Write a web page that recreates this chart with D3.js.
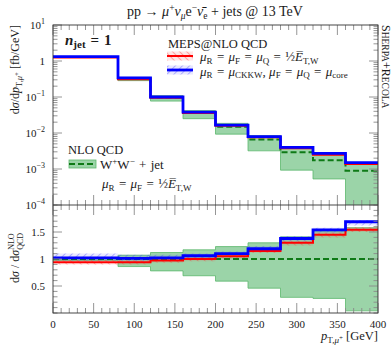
<!DOCTYPE html>
<html>
<head>
<meta charset="utf-8">
<script src="https://cdnjs.cloudflare.com/ajax/libs/d3/7.8.4/d3.min.js"></script>
<style>
body { margin: 0; background: #fff; }
svg text { font-family: "Liberation Serif", "DejaVu Serif", serif; fill: #1a1a1a; }
</style>
</head>
<body>
<div id="chart"></div>
<script>
// bin edges in GeV
const binEdges = [0, 80, 120, 160, 200, 240, 280, 320, 360, 400];

// main panel, fb/GeV
const nloCentral = [1.30, 0.33, 0.098, 0.036, 0.0150, 0.0066, 0.0029, 0.00175, 0.00089];
const nloLow     = [1.25, 0.285, 0.077, 0.025, 0.0093, 0.0032, 0.00093, 0.00053, 0.00004];
const nloHigh    = [1.34, 0.35, 0.109, 0.042, 0.0185, 0.0085, 0.0041, 0.0026, 0.0014];
const mepsRed    = [1.25, 0.31, 0.095, 0.036, 0.0158, 0.0076, 0.0038, 0.0025, 0.00137];
const mepsBlue   = [1.33, 0.34, 0.100, 0.038, 0.0166, 0.0079, 0.0040, 0.0027, 0.0015];

// ratio panel (to NLO QCD)
const ratioNlo       = [1, 1, 1, 1, 1, 1, 1, 1, 1];
const ratioNloLow    = [0.97, 0.86, 0.78, 0.69, 0.59, 0.46, 0.29, 0.27, 0.04];
const ratioNloHigh   = [1.03, 1.07, 1.12, 1.17, 1.23, 1.30, 1.41, 1.52, 1.58];
const ratioRed       = [0.94, 0.94, 0.97, 1.00, 1.05, 1.15, 1.30, 1.45, 1.54];
const ratioRedLow    = [0.90, 0.90, 0.93, 0.96, 1.01, 1.11, 1.25, 1.40, 1.50];
const ratioRedHigh   = [0.98, 0.98, 1.01, 1.04, 1.09, 1.19, 1.34, 1.49, 1.59];
const ratioBlue      = [1.02, 1.01, 1.02, 1.06, 1.10, 1.19, 1.38, 1.54, 1.69];
const ratioBlueLow   = [0.97, 0.96, 0.98, 1.02, 1.06, 1.15, 1.33, 1.49, 1.62];
const ratioBlueHigh  = [1.10, 1.08, 1.08, 1.10, 1.14, 1.24, 1.42, 1.58, 1.72];

// tick values
const xMajorTicks = [0, 50, 100, 150, 200, 250, 300, 350, 400];
const yMainDecades = [-4, -3, -2, -1, 0, 1];
const yRatioMajor = [0.5, 1, 1.5];

const W = 392, H = 350;
const left = 53, right = 378, mainTop = 25, split = 205, bottom = 313;

const svg = d3.select("#chart").append("svg")
  .attr("width", W).attr("height", H);

const x = d3.scaleLinear().domain([0, 400]).range([left, right]);
const yMain = d3.scaleLog().domain([1e-4, 10]).range([split, mainTop]);
const yRatio = d3.scaleLinear().domain([0, 2]).range([bottom, split]);

// hatch patterns
const defs = svg.append("defs");
function hatch(id, color, dir) {
  const p = defs.append("pattern").attr("id", id)
    .attr("patternUnits", "userSpaceOnUse").attr("width", 5).attr("height", 5)
    .attr("patternTransform", `rotate(${dir})`);
  p.append("rect").attr("width", 5).attr("height", 5).attr("fill", color).attr("fill-opacity", 0.12);
  p.append("line").attr("x1", 0).attr("y1", 0).attr("x2", 0).attr("y2", 5)
    .attr("stroke", color).attr("stroke-width", 1.3).attr("stroke-opacity", 0.55);
}
hatch("hatchRed", "#ff3030", -45);
hatch("hatchBlue", "#4040ff", 45);

defs.append("clipPath").attr("id", "clipMain").append("rect")
  .attr("x", left).attr("y", mainTop).attr("width", right - left).attr("height", split - mainTop);
defs.append("clipPath").attr("id", "clipRatio").append("rect")
  .attr("x", left).attr("y", split).attr("width", right - left).attr("height", bottom - split);

// helpers for step histograms
function stepPts(vals) {
  const pts = vals.map((v, i) => [binEdges[i], v]);
  pts.push([binEdges[binEdges.length - 1], vals[vals.length - 1]]);
  return pts;
}
function stepLine(y) {
  return d3.line().x(d => x(d[0])).y(d => y(d[1])).curve(d3.curveStepAfter);
}
function stepArea(y, lo, hi) {
  const pts = lo.map((v, i) => [binEdges[i], v, hi[i]]);
  pts.push([binEdges[binEdges.length - 1], lo[lo.length - 1], hi[hi.length - 1]]);
  return d3.area().x(d => x(d[0])).y0(d => y(d[1])).y1(d => y(d[2])).curve(d3.curveStepAfter)(pts);
}

const green = "#0e7a16", bandFill = "#9bd4a8", bandEdge = "#5cb86c";

// ---- main panel
const gMain = svg.append("g").attr("clip-path", "url(#clipMain)");
gMain.append("path").attr("d", stepArea(yMain, nloLow, nloHigh))
  .attr("fill", bandFill).attr("stroke", bandEdge).attr("stroke-width", 0.8);
gMain.append("path").attr("d", stepLine(yMain)(stepPts(nloCentral)))
  .attr("fill", "none").attr("stroke", green).attr("stroke-width", 2).attr("stroke-dasharray", "6,3");
gMain.append("path").attr("d", stepLine(yMain)(stepPts(mepsRed)))
  .attr("fill", "none").attr("stroke", "#ff0000").attr("stroke-width", 2);
gMain.append("path").attr("d", stepLine(yMain)(stepPts(mepsBlue)))
  .attr("fill", "none").attr("stroke", "#0000ff").attr("stroke-width", 2.8);

// ---- ratio panel
const gRat = svg.append("g").attr("clip-path", "url(#clipRatio)");
gRat.append("path").attr("d", stepArea(yRatio, ratioNloLow, ratioNloHigh))
  .attr("fill", bandFill).attr("stroke", bandEdge).attr("stroke-width", 0.8);
gRat.append("path").attr("d", stepArea(yRatio, ratioBlueLow, ratioBlueHigh))
  .attr("fill", "url(#hatchBlue)");
gRat.append("path").attr("d", stepArea(yRatio, ratioRedLow, ratioRedHigh))
  .attr("fill", "url(#hatchRed)");
gRat.append("path").attr("d", stepLine(yRatio)(stepPts(ratioNlo)))
  .attr("fill", "none").attr("stroke", green).attr("stroke-width", 2).attr("stroke-dasharray", "6,3");
gRat.append("path").attr("d", stepLine(yRatio)(stepPts(ratioRed)))
  .attr("fill", "none").attr("stroke", "#ff0000").attr("stroke-width", 2);
gRat.append("path").attr("d", stepLine(yRatio)(stepPts(ratioBlue)))
  .attr("fill", "none").attr("stroke", "#0000ff").attr("stroke-width", 2.8);

// ---- frames and ticks
const tickCol = "#8a8a8a", frameCol = "#333";
const gAx = svg.append("g");
function tick(x1, y1, x2, y2) {
  gAx.append("line").attr("x1", x1).attr("y1", y1).attr("x2", x2).attr("y2", y2)
    .attr("stroke", tickCol).attr("stroke-width", 0.9);
}
const xMinor = d3.range(0, 401, 10);
xMinor.forEach(v => {
  const major = xMajorTicks.includes(v);
  const L = major ? 10 : 5, px = x(v);
  tick(px, mainTop, px, mainTop + L);
  tick(px, split - L, px, split + L);
  tick(px, bottom - L, px, bottom);
});
yMainDecades.forEach(d => {
  for (let k = 1; k <= 9; k++) {
    const v = k * Math.pow(10, d);
    if (v > 10 || v < 1e-4) continue;
    const L = k === 1 ? 9 : 4.5, py = yMain(v);
    tick(left, py, left + L, py);
    tick(right - L, py, right, py);
  }
});
d3.range(0, 2.001, 0.1).forEach(v => {
  const major = yRatioMajor.some(m => Math.abs(m - v) < 1e-6);
  const L = major ? 9 : 4.5, py = yRatio(v);
  tick(left, py, left + L, py);
  tick(right - L, py, right, py);
});
gAx.append("rect").attr("x", left).attr("y", mainTop).attr("width", right - left).attr("height", bottom - mainTop)
  .attr("fill", "none").attr("stroke", frameCol).attr("stroke-width", 0.9);
gAx.append("line").attr("x1", left).attr("x2", right).attr("y1", split).attr("y2", split)
  .attr("stroke", frameCol).attr("stroke-width", 0.9);

// ---- rich text helper (s = baseline shift up in px)
function rich(sel, parts) {
  let cur = 0;
  parts.forEach(([txt, o = {}]) => {
    const s = o.s || 0;
    const t = sel.append("tspan").text(txt);
    if (s !== cur) t.attr("dy", cur - s);
    cur = s;
    if (o.it) t.attr("font-style", "italic");
    if (o.b) t.attr("font-weight", "bold");
    if (o.fs) t.attr("font-size", o.fs);
    if (o.dx) t.attr("dx", o.dx);
  });
  return sel;
}
const EQ = "\u2004=\u2004";

// tick labels
yMainDecades.forEach(d => {
  const t = svg.append("text").attr("x", 45).attr("y", yMain(Math.pow(10, d)) + 4)
    .attr("text-anchor", "end").attr("font-size", 11);
  if (d === 0) t.text("1");
  else rich(t, [["10"], [d < 0 ? "−" + (-d) : String(d), {s: 5, fs: 8}]]);
});
yRatioMajor.forEach(v => {
  svg.append("text").attr("x", 45).attr("y", yRatio(v) + 4)
    .attr("text-anchor", "end").attr("font-size", 11).text(String(v));
});
xMajorTicks.forEach(v => {
  svg.append("text").attr("x", x(v)).attr("y", 328)
    .attr("text-anchor", "middle").attr("font-size", 11).text(v);
});

// title
rich(svg.append("text").attr("x", 215).attr("y", 16).attr("text-anchor", "middle").attr("font-size", 14),
  [["pp → "], ["μ", {it: 1}], ["+", {s: 5, fs: 9.5}], ["ν", {it: 1}], ["μ", {it: 1, s: -3, fs: 9.5}],
   ["e"], ["−", {s: 5, fs: 9.5}], ["ν̄", {it: 1}], ["e", {s: -3, fs: 9.5}], [" + jets @ 13 TeV"]]);

// axis labels
rich(svg.append("text").attr("transform", "translate(19,25) rotate(-90)").attr("text-anchor", "end").attr("font-size", 12),
  [["d"], ["σ", {it: 1}], ["/d"], ["p", {it: 1}], ["T,", {s: -3, fs: 8.5}], ["μ", {it: 1, s: -3, fs: 8.5}],
   ["+", {s: 0, fs: 7}], [" [fb/GeV]", {s: 0}]]);

const rl = svg.append("text").attr("transform", "translate(19,283) rotate(-90)").attr("font-size", 12);
rich(rl, [["d"], ["σ", {it: 1}], [" / d"], ["σ", {it: 1}]]);
const nloT = rl.append("tspan").attr("dy", -5).attr("font-size", 8).text("NLO");
const nloW = nloT.node().getComputedTextLength();
rl.append("tspan").attr("dy", 9).attr("dx", -nloW).attr("font-size", 8).text("QCD");

rich(svg.append("text").attr("x", 378).attr("y", 340).attr("text-anchor", "end").attr("font-size", 12.5),
  [["p", {it: 1}], ["T,", {s: -3, fs: 9}], ["μ", {it: 1, s: -3, fs: 9}], ["+", {s: 0, fs: 7}], [" [GeV]", {s: 0}]]);

// generator tag
rich(svg.append("text").attr("transform", "translate(382,25) rotate(90)").attr("font-size", 12),
  [["S"], ["HERPA", {fs: 9.5}], ["+", {fs: 12}], ["R"], ["ECOLA", {fs: 9.5}]]);

// n_jet
rich(svg.append("text").attr("x", 65).attr("y", 45).attr("font-size", 15).attr("font-weight", "bold"),
  [["n", {it: 1}], ["jet", {s: -3, fs: 11}], [EQ + "1", {s: 0}]]);

// MEPS legend
svg.append("text").attr("x", 168).attr("y", 48).attr("font-size", 12.5).text("MEPS@NLO QCD");
function mepsKey(y, pat, col, w) {
  svg.append("rect").attr("x", 167).attr("y", y - 4.5).attr("width", 26).attr("height", 9).attr("fill", `url(#${pat})`);
  svg.append("line").attr("x1", 167).attr("x2", 193).attr("y1", y).attr("y2", y).attr("stroke", col).attr("stroke-width", w);
}
mepsKey(56, "hatchRed", "#ff0000", 2);
mepsKey(70, "hatchBlue", "#0000ff", 2.8);
rich(svg.append("text").attr("x", 200).attr("y", 61).attr("font-size", 13),
  [["μ", {it: 1}], ["R", {s: -2.5, fs: 9}], [EQ, {s: 0}], ["μ", {it: 1}], ["F", {s: -2.5, fs: 9}],
   [EQ, {s: 0}], ["μ", {it: 1}], ["Q", {s: -2.5, fs: 9}], [EQ, {s: 0}], ["½", {}], ["E̅", {it: 1}],
   ["T,W", {s: -2.5, fs: 9}]]);
rich(svg.append("text").attr("x", 200).attr("y", 75.5).attr("font-size", 13),
  [["μ", {it: 1}], ["R", {s: -2.5, fs: 9}], [EQ, {s: 0}], ["μ", {it: 1}], ["CKKW", {s: -2.5, fs: 9}],
   [", ", {s: 0}], ["μ", {it: 1}], ["F", {s: -2.5, fs: 9}], [EQ, {s: 0}], ["μ", {it: 1}], ["Q", {s: -2.5, fs: 9}],
   [EQ, {s: 0}], ["μ", {it: 1}], ["core", {s: -2.5, fs: 9}]]);

// NLO legend
svg.append("text").attr("x", 68).attr("y", 154).attr("font-size", 12.5).text("NLO QCD");
svg.append("rect").attr("x", 69).attr("y", 160).attr("width", 27).attr("height", 8)
  .attr("fill", bandFill).attr("stroke", bandEdge).attr("stroke-width", 0.8);
svg.append("line").attr("x1", 69).attr("x2", 96).attr("y1", 164).attr("y2", 164)
  .attr("stroke", green).attr("stroke-width", 2).attr("stroke-dasharray", "6,3");
rich(svg.append("text").attr("x", 100).attr("y", 169).attr("font-size", 13),
  [["W"], ["+", {s: 5, fs: 9}], ["W", {s: 0}], ["−", {s: 5, fs: 9}], ["\u2004+\u2004jet", {s: 0}]]);
rich(svg.append("text").attr("x", 102).attr("y", 188).attr("font-size", 13),
  [["μ", {it: 1}], ["R", {s: -3, fs: 9}], [EQ, {s: 0}], ["μ", {it: 1}], ["F", {s: -3, fs: 9}],
   [EQ, {s: 0}], ["½"], ["E̅", {it: 1}], ["T,W", {s: -3, fs: 9}]]);
</script>
</body>
</html>
